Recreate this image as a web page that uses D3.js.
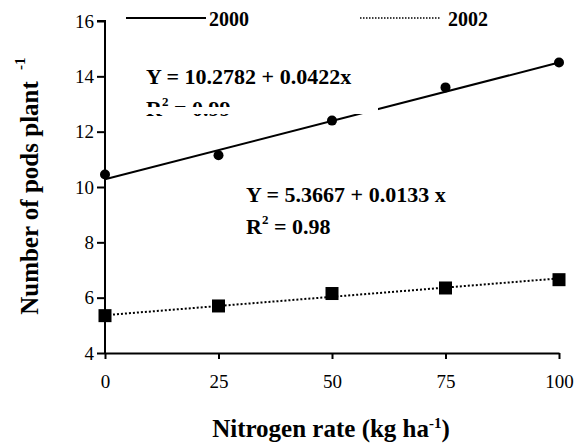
<!DOCTYPE html>
<html>
  <head>
    <meta charset="utf-8">
    <title>Pods per plant vs nitrogen</title>
    <script type="text/javascript" src="https://cdn.jsdelivr.net/npm/d3@7"></script>
    <style>
      body { margin: 0; background: #fff; }
    </style>
  </head>
  <body>
    <script type="text/javascript">
     // data
     let nitrogen = [0, 25, 50, 75, 100];
     let pods2000 = [10.45, 11.15, 12.4, 13.6, 14.5];
     let pods2002 = [5.35, 5.7, 6.15, 6.35, 6.65];
     let fit2000 = [10.2782, 0.0422];
     let fit2002 = [5.3667, 0.0133];
     let xTicks = [0, 25, 50, 75, 100];
     let yTicks = [4, 6, 8, 10, 12, 14, 16];

     let serif = "'Liberation Serif', 'Times New Roman', 'DejaVu Serif', serif";

     // set the canvas
     let w = 577;
     let h = 443;
     let margin = {top: 21, right: 18, bottom: 90, left: 105};

     let svg = d3.select("body").append("svg")
                 .attr("width", w)
                 .attr("height", h)
                 .attr("font-family", serif)
                 .style("display", "block");

     let xScale = d3.scaleLinear()
                    .domain([0, 100])
                    .range([margin.left, w - margin.right]);
     let yScale = d3.scaleLinear()
                    .domain([4, 16])
                    .range([h - margin.bottom, margin.top]);

     // regression lines
     let fitLine = (f) => xScale.domain().map((x) => [xScale(x), yScale(f[0] + f[1] * x)]);
     svg.append("path")
        .attr("d", d3.line()(fitLine(fit2000)))
        .attr("stroke", "#000")
        .attr("stroke-width", 2)
        .attr("fill", "none");
     svg.append("path")
        .attr("d", d3.line()(fitLine(fit2002)))
        .attr("stroke", "#000")
        .attr("stroke-width", 2)
        .attr("stroke-dasharray", "2,2")
        .attr("fill", "none");

     // markers
     svg.selectAll("circle")
        .data(nitrogen)
        .enter()
        .append("circle")
        .attr("cx", (d) => xScale(d))
        .attr("cy", (d, i) => yScale(pods2000[i]))
        .attr("r", 5)
        .attr("fill", "#000");
     svg.selectAll("rect.sq")
        .data(nitrogen)
        .enter()
        .append("rect")
        .attr("class", "sq")
        .attr("x", (d) => xScale(d) - 6.5)
        .attr("y", (d, i) => yScale(pods2002[i]) - 6.5)
        .attr("width", 13)
        .attr("height", 13)
        .attr("fill", "#000");

     // axes
     let xAxis = d3.axisBottom(xScale)
                   .tickValues(xTicks)
                   .tickSize(6)
                   .tickPadding(16)
                   .tickSizeOuter(0);
     let gx = svg.append("g")
                 .attr("transform", "translate(0," + (h - margin.bottom) + ")")
                 .call(xAxis);
     let yAxis = d3.axisLeft(yScale)
                   .tickValues(yTicks)
                   .tickSize(8)
                   .tickPadding(3)
                   .tickSizeOuter(0);
     let gy = svg.append("g")
                 .attr("transform", "translate(" + margin.left + ",0)")
                 .call(yAxis);
     [gx, gy].forEach((g) => {
       g.attr("font-family", serif).attr("font-size", 19);
       g.select(".domain").attr("stroke", "#000").attr("stroke-width", 2);
       g.selectAll(".tick line").attr("stroke", "#000").attr("stroke-width", 2);
       g.selectAll(".tick text").attr("fill", "#000");
     });
     // axis corner ticks as in the original
     gy.select(".domain").attr("d", "M-8," + margin.top + "H0V" + (h - margin.bottom));

     // legend
     let legend = svg.append("g").attr("font-weight", "bold").attr("font-size", 20);
     legend.append("line")
           .attr("x1", 126).attr("x2", 206).attr("y1", 18).attr("y2", 18)
           .attr("stroke", "#000").attr("stroke-width", 2);
     legend.append("text").attr("x", 209).attr("y", 26).text("2000");
     legend.append("line")
           .attr("x1", 360).attr("x2", 440).attr("y1", 18).attr("y2", 18)
           .attr("stroke", "#000").attr("stroke-width", 1.5)
           .attr("stroke-dasharray", "1.5,1.5");
     legend.append("text").attr("x", 448).attr("y", 26).text("2002");

     // equations
     let eq = svg.append("g").attr("font-weight", "bold").attr("font-size", 22);
     eq.append("text").attr("x", 146).attr("y", 84).text("Y = 10.2782 + 0.0422x");
     let r1 = eq.append("text").attr("x", 146).attr("y", 116);
     r1.append("tspan").text("R");
     r1.append("tspan").attr("dy", -10).attr("font-size", 13).text("2");
     r1.append("tspan").attr("dy", 10).text(" = 0.99");
     // white box of the second text frame hides the lower part
     svg.append("rect")
        .attr("x", 130).attr("y", 107).attr("width", 248).attr("height", 7)
        .attr("fill", "#fff");

     eq.append("text").attr("x", 246).attr("y", 202).text("Y = 5.3667 + 0.0133 x");
     let r2 = eq.append("text").attr("x", 246).attr("y", 234);
     r2.append("tspan").text("R");
     r2.append("tspan").attr("dy", -10).attr("font-size", 13).text("2");
     r2.append("tspan").attr("dy", 10).text(" = 0.98");

     // axis titles
     let xt = svg.append("text")
                 .attr("x", 331).attr("y", 437)
                 .attr("text-anchor", "middle")
                 .attr("font-weight", "bold").attr("font-size", 25);
     xt.append("tspan").text("Nitrogen rate (kg ha");
     xt.append("tspan").attr("dy", -9).attr("font-size", 15).text("-1");
     xt.append("tspan").attr("dy", 9).text(")");

     let yt = svg.append("g").attr("transform", "translate(38,198) rotate(-90)");
     yt.append("text")
       .attr("text-anchor", "middle")
       .attr("font-weight", "bold").attr("font-size", 25)
       .text("Number of pods plant");
     yt.append("text")
       .attr("x", 128).attr("y", -13)
       .attr("font-weight", "bold").attr("font-size", 15)
       .text("-1");
    </script>
  </body>
</html>
